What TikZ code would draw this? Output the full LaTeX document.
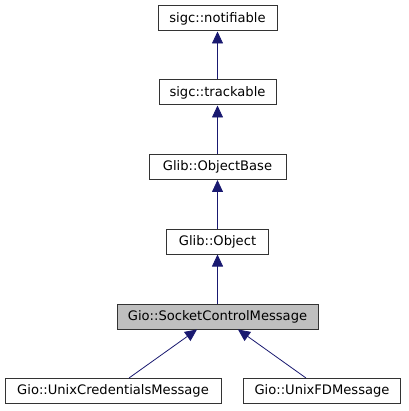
\documentclass[tikz,border=0pt]{standalone}
\usepackage{fontspec}
\setmainfont{DejaVu Sans}
\usetikzlibrary{arrows.meta}

\begin{document}
\begin{tikzpicture}[x=1pt, y=-1pt,
    cls/.style={draw=black!80, line width=1pt, fill=white, inner sep=0pt,
        minimum height=25pt, font=\fontsize{13.1}{16}\selectfont},
    inh/.style={draw={rgb,255:red,25;green,25;blue,112}, line width=0.8pt,
        -{Triangle[length=12pt, width=11pt, fill={rgb,255:red,25;green,25;blue,112}]}}]
    \useasboundingbox (0,0) rectangle (408,411);

    % base classes
    \node[cls, minimum width=119pt] (notifiable) at (217.5, 18.5) {sigc::notifiable};
    \node[cls, minimum width=117pt] (trackable) at (217.5, 92.5) {sigc::trackable};
    \node[cls, minimum width=137pt] (objectbase) at (217.5, 167) {Glib::ObjectBase};
    \node[cls, minimum width=102pt] (object) at (217.5, 241.5) {Glib::Object};

    % this class
    \node[cls, fill=black!25, minimum width=201pt] (socketmsg) at (217.5, 316.5) {Gio::SocketControlMessage};

    % derived classes
    \node[cls, minimum width=216pt] (credmsg) at (113, 391) {Gio::UnixCredentialsMessage};
    \node[cls, minimum width=157pt] (fdmsg) at (322, 391) {Gio::UnixFDMessage};

    \draw[inh] (trackable) -- (notifiable);
    \draw[inh] (objectbase) -- (trackable);
    \draw[inh] (object) -- (objectbase);
    \draw[inh] (socketmsg) -- (object);
    \draw[inh] (credmsg.north -| 129,0) -- (socketmsg.south -| 197,0);
    \draw[inh] (fdmsg.north -| 306,0) -- (socketmsg.south -| 238,0);
\end{tikzpicture}
\end{document}
